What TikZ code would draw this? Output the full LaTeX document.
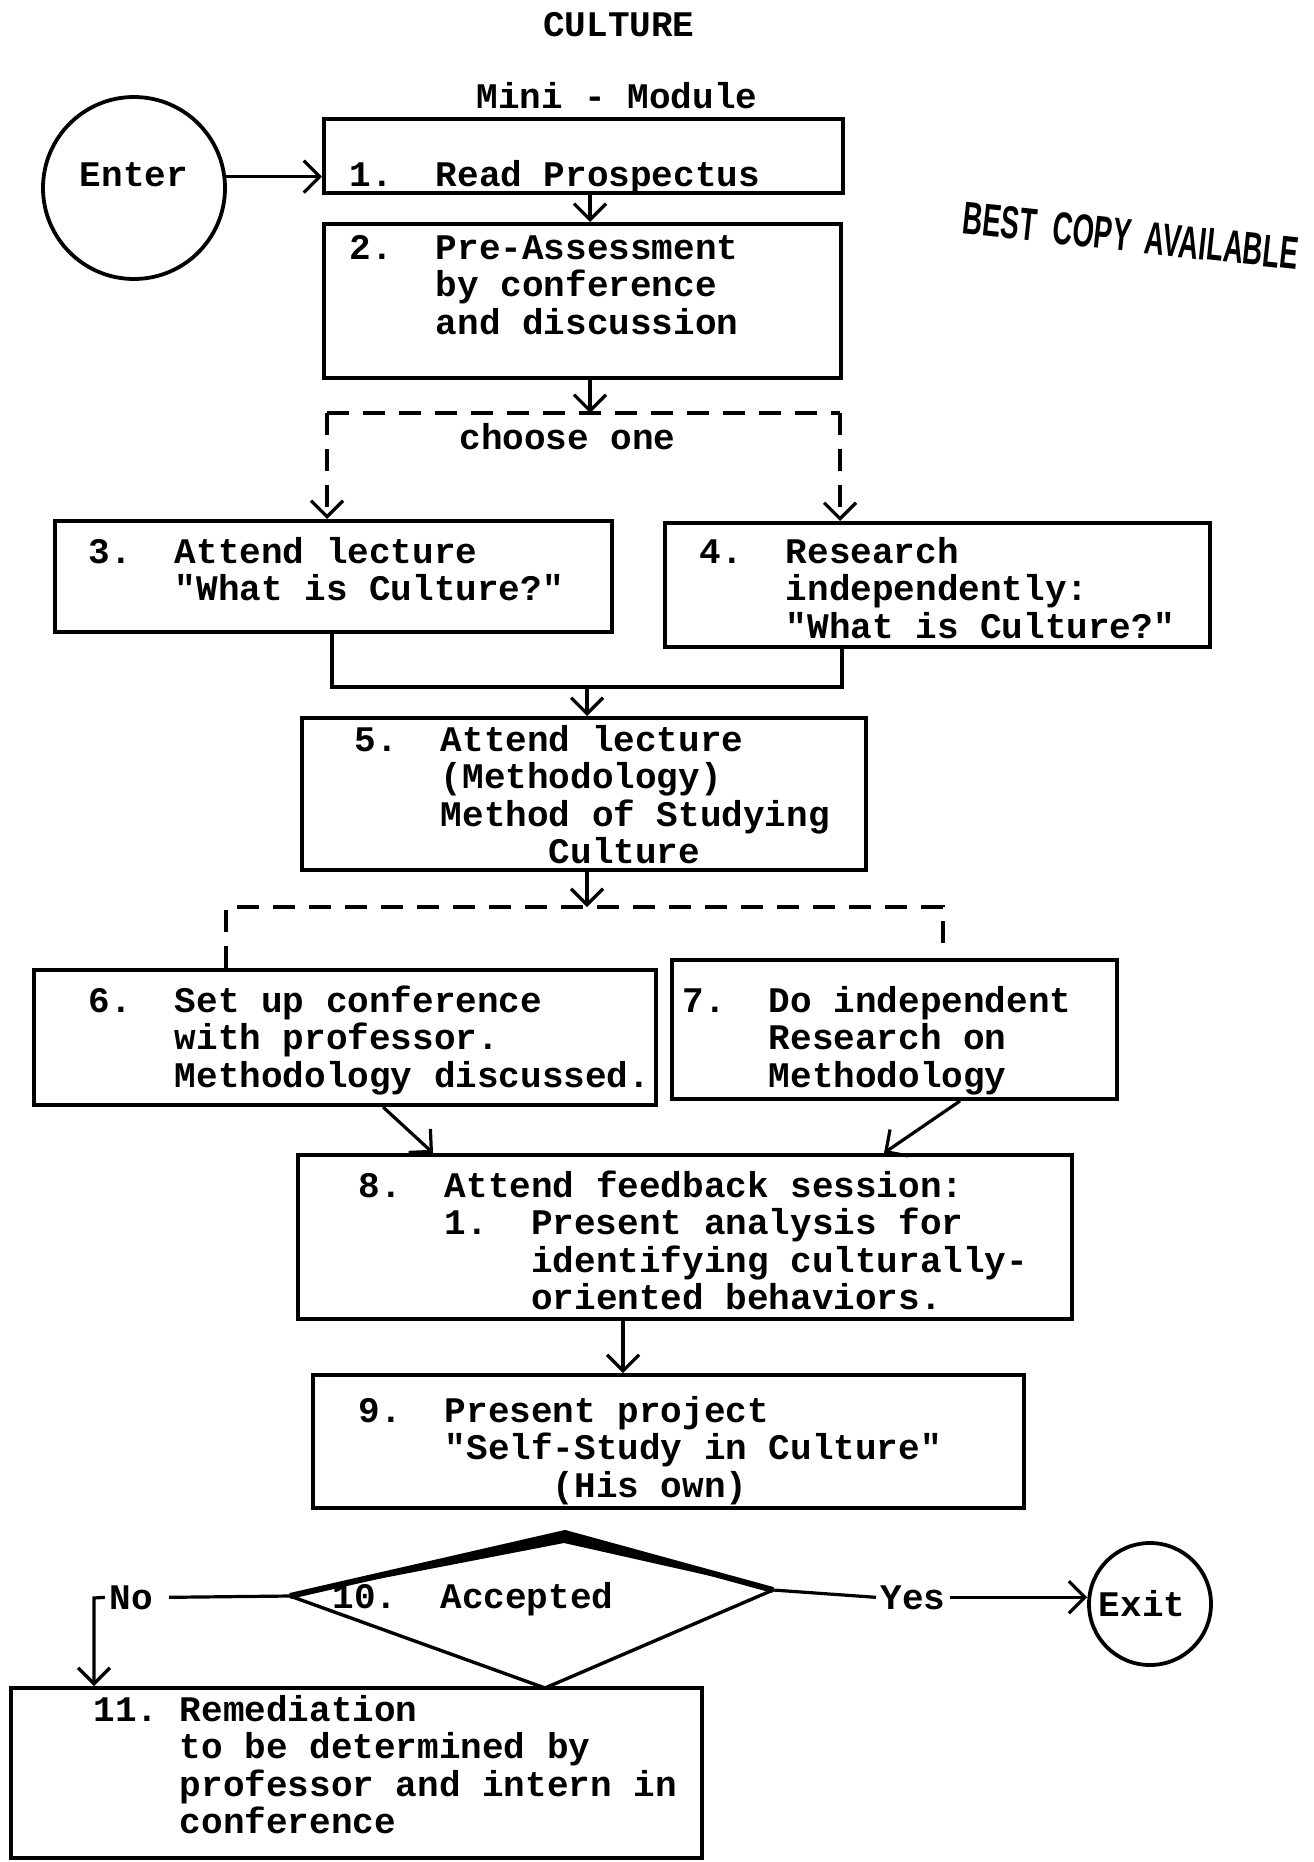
\documentclass[tikz,border=0pt]{standalone}
\usepackage{fontspec}
\newfontfamily\tw{Liberation Mono}
\newfontfamily\stampfont{Liberation Sans}
\usetikzlibrary{arrows.meta,fit}
\newlength\cw \setlength\cw{10.8pt}
\newcommand\ic[1]{\hspace*{#1\cw}}
\newcommand\fs{\fontsize{18pt}{18.7pt}\selectfont}
\newcommand\st{\rule{0pt}{15pt}}
\begin{document}
\begin{tikzpicture}[x=0.5pt,y=-0.5pt,
  box/.style={draw, line width=2pt, inner sep=0pt},
  circ/.style={draw, circle, line width=1.9pt, inner sep=0pt, font=\tw\bfseries\fs},
  arr/.style={line width=1.6pt, -{Straight Barb[length=8pt,width=16pt]}},
  ln/.style={line width=1.6pt},
  dsh/.style={line width=1.6pt, dash pattern=on 11pt off 7pt},
  tx/.style={inner sep=0pt, anchor=north west, align=left, font=\tw\bfseries\fs\frenchspacing},
  lb/.style={inner sep=0pt, anchor=base west, font=\tw\bfseries\fs},
]
\useasboundingbox (0,0) rectangle (1313,1862);

% titles
\node[lb, anchor=center] (title) at (619,25) {CULTURE};
\node[lb] (mini) at (476,109) {Mini - Module};

% stamp
\node[rotate=-6.2, inner sep=0pt] (stamp) at (1131,236)
  {\stampfont\bfseries\fontsize{23pt}{23pt}\selectfont\scalebox{0.6}[1]{BEST\hspace{14pt}COPY\hspace{12pt}AVAILABLE}};

% terminals
\node[circ, minimum size=91pt] (enter) at (134,188) {\raisebox{13pt}{Enter}};
\node[circ, minimum size=61pt] (exit) at (1150,1604) {\hspace*{-8pt}Exit};

% boxes
\node[box, fit={(324,119)(843,193)}] (b1) {};
\node[box, fit={(324,224)(841,378)}] (b2) {};
\node[box, fit={(55,521)(612,632)}] (b3) {};
\node[box, fit={(665,523)(1210,647)}] (b4) {};
\node[box, fit={(302,718)(866,870)}] (b5) {};
\node[box, fit={(34,970)(656,1105)}] (b6) {};
\node[box, fit={(672,960)(1117,1099)}] (b7) {};
\node[box, fit={(298,1155)(1072,1319)}] (b8) {};
\node[box, fit={(313,1375)(1024,1508)}] (b9) {};
\node[box, fit={(11,1688)(702,1858)}] (b11) {};

% diamond
\coordinate (dT) at (565,1533);
\coordinate (dT2) at (564,1543);
\coordinate (dL) at (290,1596);
\coordinate (dR) at (773,1590);
\coordinate (dB) at (545,1688);
\fill (dL) -- (dT) -- (dR) -- (dT2) -- cycle;
\draw[line width=1.7pt, line join=round] (dL) -- (dB) -- (dR);
\draw[line width=3pt, line join=round] (dL) -- (dT) -- (dR);

% texts
\node[tx] (t1) at (349,156) {\st 1.\ic{2}Read Prospectus};
\node[tx] (t2) at (349,229) {\st 2.\ic{2}Pre-Assessment\\ \ic{4}by conference\\ \ic{4}and discussion};
\node[tx] (choose) at (459,419) {\st choose one};
\node[tx] (t3) at (88,533) {\st 3.\ic{2}Attend lecture\\ \ic{4}"What is Culture?"};
\node[tx] (t4) at (699,533) {\st 4.\ic{2}Research\\ \ic{4}independently:\\ \ic{4}"What is Culture?"};
\node[tx] (t5) at (354,721) {\st 5.\ic{2}Attend lecture\\ \ic{4}(Methodology)\\ \ic{4}Method of Studying\\ \ic{9}Culture};
\node[tx] (t6) at (88,982) {\st 6.\ic{2}Set up conference\\ \ic{4}with professor.\\ \ic{4}Methodology discussed.};
\node[tx] (t7) at (682,982) {\st 7.\ic{2}Do independent\\ \ic{4}Research on\\ \ic{4}Methodology};
\node[tx] (t8) at (358,1167) {\st 8.\ic{2}Attend feedback session:\\ \ic{4}1.\ic{2}Present analysis for\\ \ic{8}identifying culturally-\\ \ic{8}oriented behaviors.};
\node[tx] (t9) at (358,1392) {\st 9.\ic{2}Present project\\ \ic{4}"Self-Study in Culture"\\ \ic{9}(His own)};
\node[tx] (t10) at (332,1578) {\st 10.\ic{2}Accepted};
\node[tx] (t11) at (93,1691) {\st 11.\ic{1}Remediation\\ \ic{4}to be determined by\\ \ic{4}professor and intern in\\ \ic{4}conference};
\node[lb] (no) at (109,1609) {No};
\node[lb] (yes) at (880,1609) {Yes};

% connectors
\draw[arr] (enter.7) -- (enter.7 -| b1.west);
\coordinate (p12) at (590,0);
\draw[arr] (b1.south -| p12) -- (b2.north -| p12);

\coordinate (d1) at (590,413);
\coordinate (d1L) at (327,413);
\coordinate (d1R) at (840,413);
\draw[arr] (b2.south -| d1) -- (d1);
\draw[dsh] (d1L) -- (d1R);
\draw[dsh, arr] (d1L) -- (d1L |- b3.north);
\draw[dsh, arr] (d1R) -- (d1R |- b4.north);

\coordinate (jL) at (332,687);
\coordinate (jR) at (842,687);
\coordinate (j) at (587,687);
\draw[ln] (b3.south -| jL) -- (jL) -- (jR) -- (b4.south -| jR);
\draw[arr] (j) -- (j |- b5.north);

\coordinate (d2) at (587,907);
\coordinate (d2L) at (226,907);
\coordinate (d2R) at (943,907);
\coordinate (d2E) at (943,949);
\draw[arr] (b5.south -| d2) -- (d2);
\draw[dsh] (d2L |- b6.north) -- (d2L) -- (d2R) -- (d2E);

\coordinate (p6) at (383,0);
\coordinate (q8) at (433,0);
\coordinate (p7) at (960,0);
\coordinate (r8) at (884,0);
\draw[arr] (b6.south -| p6) -- (b8.north -| q8);
\draw[arr] (b7.south -| p7) -- (b8.north -| r8);

\coordinate (p89) at (623,0);
\draw[arr] (b8.south -| p89) -- (b9.north -| p89);

\coordinate (nc) at (94,1598);
\draw[ln] (dL) -- ([xshift=8pt]no.east);
\draw[arr] ([xshift=-2pt]no.west) -- (nc) -- (nc |- b11.north);
\draw[ln] (dR) -- ([xshift=-2pt]yes.west);
\draw[arr] ([xshift=2pt]yes.east) -- (yes.east -| exit.west);
\end{tikzpicture}
\end{document}
